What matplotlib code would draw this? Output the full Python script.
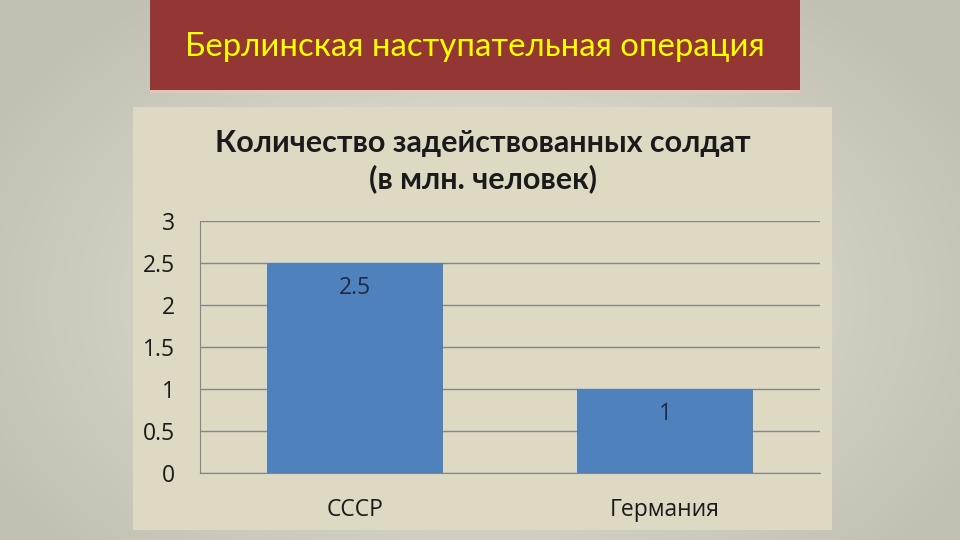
import numpy as np
import matplotlib
matplotlib.use("Agg")
import matplotlib.pyplot as plt
from matplotlib.patches import Rectangle

categories = ["СССР", "Германия"]
values = [2.5, 1.0]
value_labels = ["2.5", "1"]
yticks = [0, 0.5, 1, 1.5, 2, 2.5, 3]
ytick_labels = ["0", "0.5", "1", "1.5", "2", "2.5", "3"]
slide_title = "Берлинская наступательная операция"
chart_title = "Количество задействованных солдат\n(в млн. человек)"

plt.rcParams['font.family'] = ['Open Sans', 'DejaVu Sans']

fig = plt.figure(figsize=(9.6, 5.4), dpi=100)

# slide background radial gradient
bg = fig.add_axes([0, 0, 1, 1])
bg.set_axis_off()
yy, xx = np.mgrid[0:540, 0:960]
r = np.sqrt(((xx - 480) / 560.0) ** 2 + ((yy - 300) / 380.0) ** 2)
r = np.clip(r, 0, 1)
c0 = np.array([0xe8, 0xe7, 0xdb]) / 255.0
c1 = np.array([0xc2, 0xc0, 0xb2]) / 255.0
img = c0[None, None, :] * (1 - r[..., None]) + c1[None, None, :] * r[..., None]
bg.imshow(img, extent=[0, 960, 540, 0], aspect='auto')
bg.set_xlim(0, 960)
bg.set_ylim(540, 0)

# banner
bg.add_patch(Rectangle((150, 0), 650, 90, facecolor='#943634', edgecolor='none'))
bg.add_patch(Rectangle((150, 90), 650, 3, facecolor='#e8c8c0', edgecolor='none', alpha=0.7))
bg.text(475, 47, slide_title, color='#ffff00', fontsize=23.7, ha='center', va='center',
        family=['Lato', 'DejaVu Sans'])

# chart panel
bg.add_patch(Rectangle((133, 107), 699, 423, facecolor='#ddd9c3', edgecolor='none'))
bg.text(483, 161, chart_title, color='#1a1a1a', fontsize=22, fontweight='bold',
        ha='center', va='center', linespacing=1.3, family=['Lato', 'DejaVu Sans'])

ax = fig.add_axes([200 / 960, 67 / 540, 620 / 960, 252 / 540])
ax.set_facecolor('none')
x = np.arange(len(categories))
bars = ax.bar(x, values, width=0.57, color='#4f81bd', zorder=3)
ax.set_xlim(-0.5, 1.5)
ax.set_ylim(0, 3)
ax.set_yticks(yticks)
ax.set_yticklabels(ytick_labels)
ax.set_xticks(x)
ax.set_xticklabels(categories)
ax.grid(axis='y', color='#868686', linewidth=1, zorder=0)
for s in ['top', 'right']:
    ax.spines[s].set_visible(False)
ax.spines['left'].set_color('#868686')
ax.spines['bottom'].set_color('#868686')
ax.tick_params(axis='y', length=0, pad=18, labelsize=16.5, labelcolor='#1a1a1a')
ax.tick_params(axis='x', length=0, pad=18, labelsize=16.5, labelcolor='#1a1a1a')

for xi, v, lab in zip(x, values, value_labels):
    ax.annotate(lab, (xi, v), xytext=(0, -9), textcoords='offset points',
                ha='center', va='top', fontsize=16.5, color='#1f2a44', zorder=4)

fig.savefig('out.png', dpi=100)
